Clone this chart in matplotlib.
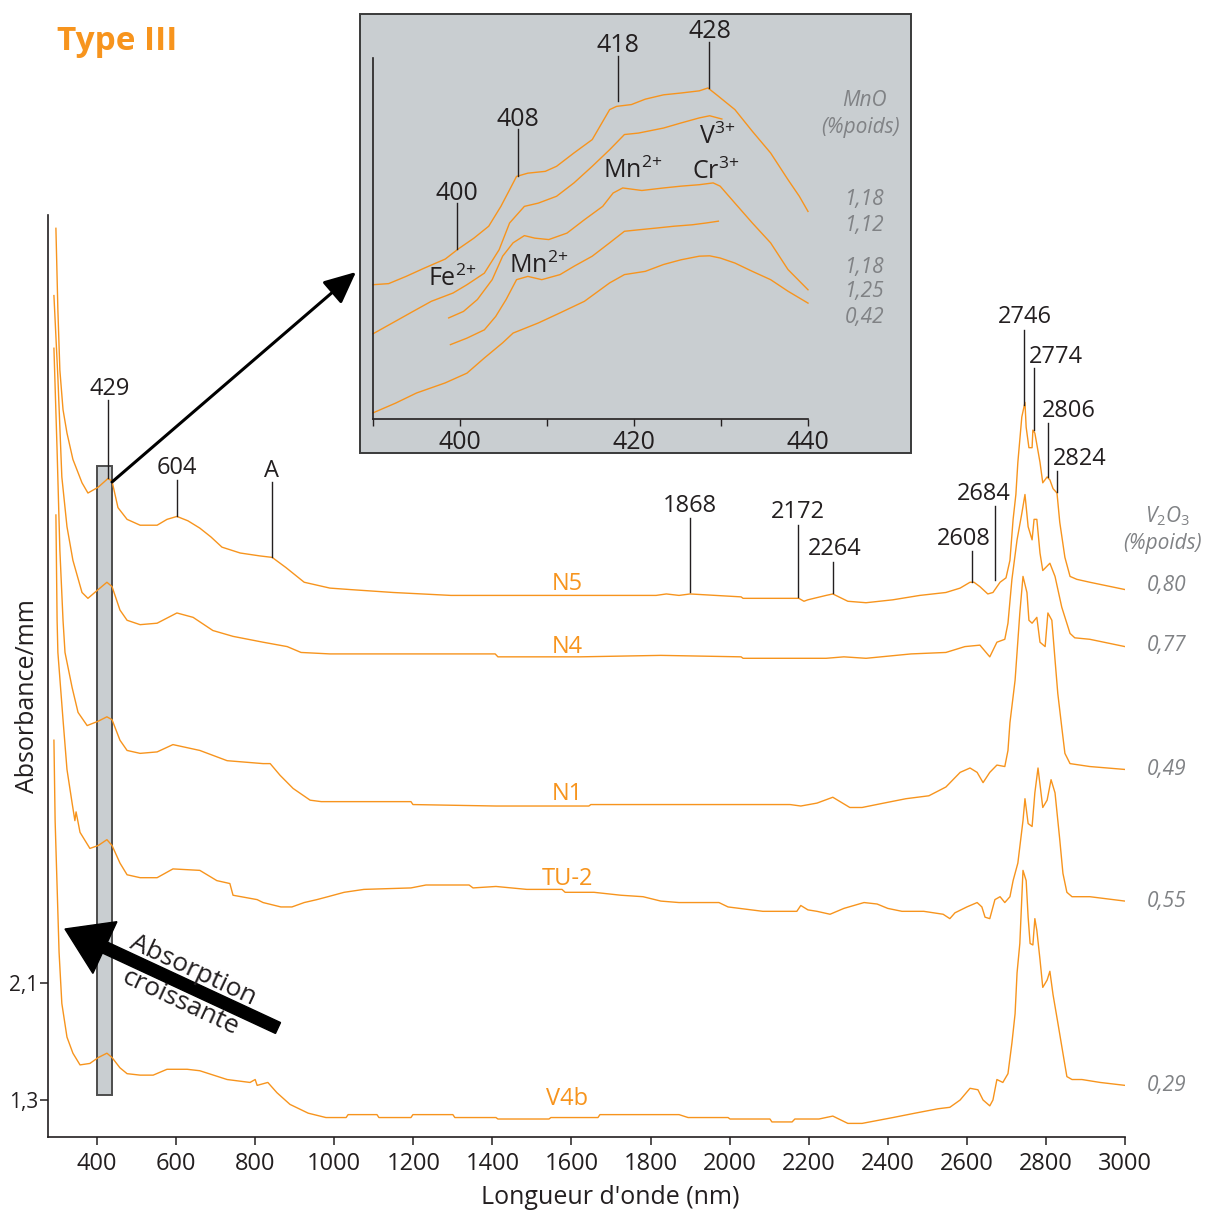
import numpy as np
import matplotlib
matplotlib.use('Agg')
import matplotlib.pyplot as plt
import matplotlib.transforms as mtransforms
from matplotlib.patches import Rectangle, FancyArrow, FancyArrowPatch
from matplotlib.lines import Line2D

plt.rcParams['font.family'] = ['Open Sans', 'DejaVu Sans']
plt.rcParams['mathtext.fontset'] = 'custom'
plt.rcParams['mathtext.rm'] = 'Open Sans'
plt.rcParams['mathtext.it'] = 'Open Sans:italic'

ORANGE = '#F7941D'
GREY = '#808285'
INK = '#231F20'
BOX = '#C9CED1'

#----------------------------------
# MAIN SPECTRA (wavelength nm, absorbance /mm)
#----------------------------------
n5_nm = [296, 301, 306, 314, 324, 339, 362, 377, 403, 428, 438, 453, 476, 509, 552, 577, 602, 630, 660, 688,
         716, 762, 812, 843, 878, 924, 989, 1040, 1149, 1295, 1409, 1814, 1840, 1872, 1900, 2029, 2034, 2175, 2188, 2198,
         2244, 2261, 2299, 2345, 2413, 2481, 2547, 2583, 2608, 2618, 2633, 2653, 2666, 2684, 2699, 2709, 2717, 2724, 2729, 2739,
         2747, 2750, 2757, 2765, 2767, 2772, 2785, 2792, 2803, 2810, 2818, 2828, 2835, 2848, 2861, 2878, 2911, 3000]
n5_abs = [7.26, 6.70, 6.29, 6.02, 5.86, 5.68, 5.52, 5.45, 5.49, 5.55, 5.53, 5.35, 5.27, 5.23, 5.23, 5.27, 5.29, 5.26, 5.21, 5.15,
          5.08, 5.04, 5.02, 5.01, 4.94, 4.84, 4.80, 4.79, 4.77, 4.75, 4.75, 4.75, 4.76, 4.75, 4.76, 4.74, 4.73, 4.73, 4.71, 4.72,
          4.75, 4.76, 4.71, 4.70, 4.72, 4.75, 4.77, 4.80, 4.84, 4.84, 4.81, 4.76, 4.77, 4.84, 4.87, 4.99, 5.27, 5.44, 5.66, 5.97,
          6.07, 5.90, 5.76, 5.76, 5.88, 5.86, 5.66, 5.52, 5.56, 5.54, 5.48, 5.45, 5.25, 5.01, 4.88, 4.86, 4.84, 4.79]

n4_nm = [291, 301, 311, 324, 339, 362, 377, 403, 425, 438, 458, 476, 509, 552, 602, 643, 693, 744, 820, 881,
         916, 989, 1407, 1414, 1622, 1826, 2029, 2034, 2244, 2289, 2345, 2459, 2547, 2595, 2633, 2658, 2676, 2696, 2704, 2714,
         2727, 2739, 2747, 2755, 2765, 2770, 2777, 2785, 2792, 2810, 2823, 2840, 2861, 2873, 2911, 3000]
n4_abs = [6.80, 6.24, 5.56, 5.22, 4.99, 4.77, 4.73, 4.79, 4.84, 4.81, 4.65, 4.58, 4.55, 4.56, 4.63, 4.60, 4.51, 4.47, 4.43, 4.40,
          4.36, 4.35, 4.35, 4.33, 4.33, 4.34, 4.33, 4.32, 4.32, 4.33, 4.32, 4.35, 4.36, 4.40, 4.41, 4.33, 4.43, 4.45, 4.56, 4.86,
          5.13, 5.31, 5.44, 5.22, 5.13, 5.27, 5.27, 5.04, 4.92, 4.97, 4.88, 4.67, 4.49, 4.46, 4.45, 4.40]

n1_nm = [291, 299, 306, 314, 319, 337, 352, 375, 403, 425, 438, 458, 476, 509, 552, 592, 660, 729, 820, 838,
         863, 896, 939, 967, 1194, 1199, 1409, 1644, 1649, 2153, 2180, 2221, 2261, 2304, 2335, 2390, 2446, 2504, 2547, 2583,
         2608, 2626, 2641, 2658, 2676, 2696, 2704, 2709, 2722, 2734, 2742, 2752, 2757, 2765, 2777, 2785, 2798, 2805, 2815, 2823,
         2830, 2840, 2848, 2861, 2911, 3000]
n1_abs = [6.44, 5.74, 5.06, 4.58, 4.36, 4.12, 3.95, 3.86, 3.89, 3.92, 3.90, 3.76, 3.69, 3.67, 3.68, 3.73, 3.69, 3.62, 3.60, 3.60,
          3.52, 3.43, 3.35, 3.34, 3.34, 3.32, 3.31, 3.31, 3.32, 3.32, 3.31, 3.33, 3.37, 3.30, 3.30, 3.33, 3.36, 3.38, 3.44, 3.54,
          3.57, 3.54, 3.47, 3.54, 3.59, 3.58, 3.69, 3.88, 4.17, 4.63, 4.88, 4.77, 4.58, 4.56, 4.60, 4.43, 4.40, 4.63, 4.58, 4.31,
          4.08, 3.85, 3.67, 3.60, 3.58, 3.56]

tu2_nm = [296, 299, 301, 314, 324, 337, 344, 347, 357, 382, 403, 425, 438, 458, 476, 509, 552, 592, 660, 703,
          736, 744, 805, 820, 865, 893, 924, 956, 984, 1025, 1075, 1194, 1232, 1341, 1351, 1409, 1487, 1576, 1584, 1657,
          1725, 1781, 1826, 1872, 1973, 1996, 2084, 2170, 2180, 2198, 2221, 2254, 2289, 2340, 2373, 2400, 2436, 2491, 2540, 2557,
          2570, 2600, 2626, 2638, 2646, 2658, 2671, 2684, 2696, 2709, 2717, 2729, 2742, 2747, 2755, 2765, 2772, 2780, 2792, 2803,
          2813, 2823, 2835, 2843, 2853, 2866, 2911, 3000]
tu2_abs = [5.30, 4.58, 4.36, 3.90, 3.56, 3.33, 3.21, 3.27, 3.13, 3.02, 3.04, 3.08, 3.04, 2.92, 2.84, 2.82, 2.82, 2.88, 2.87, 2.80,
           2.78, 2.70, 2.67, 2.65, 2.62, 2.62, 2.65, 2.67, 2.69, 2.72, 2.74, 2.75, 2.77, 2.77, 2.75, 2.76, 2.74, 2.74, 2.72, 2.72,
           2.70, 2.69, 2.66, 2.65, 2.65, 2.62, 2.59, 2.59, 2.63, 2.60, 2.59, 2.57, 2.61, 2.65, 2.64, 2.61, 2.59, 2.59, 2.57, 2.54,
           2.58, 2.62, 2.65, 2.62, 2.55, 2.54, 2.67, 2.69, 2.65, 2.69, 2.80, 2.92, 3.21, 3.36, 3.19, 3.17, 3.40, 3.57, 3.30, 3.35,
           3.49, 3.40, 3.08, 2.85, 2.72, 2.69, 2.69, 2.66]

v4b_nm = [291, 294, 299, 304, 311, 324, 339, 357, 382, 403, 425, 438, 458, 476, 509, 542, 577, 628, 660, 729,
          787, 800, 805, 832, 855, 888, 934, 979, 1030, 1035, 1108, 1113, 1194, 1199, 1300, 1305, 1409, 1414, 1543, 1548,
          1667, 1672, 1872, 1895, 1996, 2001, 2102, 2107, 2158, 2165, 2226, 2261, 2299, 2335, 2413, 2469, 2527, 2557, 2583, 2608,
          2628, 2641, 2658, 2666, 2676, 2691, 2704, 2714, 2722, 2727, 2734, 2742, 2750, 2755, 2760, 2767, 2772, 2777, 2785, 2792,
          2803, 2810, 2818, 2830, 2843, 2853, 2866, 2891, 2937, 3000]
v4b_abs = [3.76, 3.21, 2.76, 2.31, 1.96, 1.73, 1.62, 1.54, 1.55, 1.59, 1.62, 1.59, 1.52, 1.48, 1.47, 1.47, 1.51, 1.51, 1.50, 1.44,
           1.42, 1.44, 1.40, 1.42, 1.35, 1.27, 1.21, 1.18, 1.18, 1.20, 1.20, 1.18, 1.18, 1.20, 1.20, 1.18, 1.18, 1.17, 1.17, 1.18,
           1.18, 1.20, 1.20, 1.18, 1.18, 1.17, 1.17, 1.15, 1.15, 1.17, 1.17, 1.19, 1.14, 1.14, 1.18, 1.21, 1.24, 1.25, 1.30, 1.38,
           1.37, 1.30, 1.26, 1.30, 1.44, 1.42, 1.48, 1.69, 1.89, 2.17, 2.37, 2.87, 2.80, 2.55, 2.37, 2.36, 2.54, 2.46, 2.26, 2.07,
           2.12, 2.18, 2.02, 1.83, 1.62, 1.46, 1.44, 1.44, 1.42, 1.40]

samples = ['N5', 'N4', 'N1', 'TU-2', 'V4b']
v2o3 = ['0,80', '0,77', '0,49', '0,55', '0,29']
spectra = [(n5_nm, n5_abs), (n4_nm, n4_abs), (n1_nm, n1_abs), (tu2_nm, tu2_abs), (v4b_nm, v4b_abs)]

#----------------------------------
# INSET: 390-440 nm zoom (relative absorbance)
#----------------------------------
ins1_nm = [390.0, 391.8, 393.8, 395.9, 398.3, 399.8, 401.6, 403.3, 404.7, 405.7, 406.5, 407.8, 409.8, 411.1, 413.1, 415.2,
           417.2, 418.0, 419.7, 421.3, 423.4, 425.4, 427.5, 428.5, 429.5, 431.6, 433.6, 435.7, 437.7, 439.0, 440.0]
ins1_val = [0.372, 0.375, 0.395, 0.418, 0.443, 0.471, 0.501, 0.534, 0.589, 0.635, 0.672, 0.681, 0.686, 0.700, 0.737, 0.774,
            0.857, 0.866, 0.871, 0.886, 0.898, 0.903, 0.909, 0.917, 0.898, 0.857, 0.797, 0.737, 0.663, 0.617, 0.575]
ins2_nm = [390.0, 392.6, 394.6, 396.7, 399.2, 400.8, 402.8, 404.5, 405.7, 407.4, 409.0, 411.1, 413.1, 415.2, 417.2, 418.9,
           420.5, 423.4, 425.4, 427.5, 428.7, 430.1]
ins2_val = [0.236, 0.271, 0.298, 0.326, 0.349, 0.372, 0.404, 0.469, 0.543, 0.589, 0.598, 0.617, 0.654, 0.700, 0.746, 0.788,
            0.792, 0.806, 0.820, 0.834, 0.840, 0.831]
ins3_nm = [398.7, 400.4, 402.0, 403.7, 404.9, 406.1, 407.4, 408.6, 410.2, 412.3, 414.3, 416.4, 417.6, 418.7, 420.9, 423.4,
           425.4, 427.5, 429.1, 429.9, 431.6, 433.6, 435.7, 437.7, 440.0]
ins3_val = [0.280, 0.298, 0.331, 0.386, 0.451, 0.488, 0.508, 0.501, 0.497, 0.515, 0.552, 0.589, 0.626, 0.640, 0.633, 0.640,
            0.645, 0.649, 0.654, 0.645, 0.598, 0.543, 0.488, 0.414, 0.358]
ins4_nm = [398.9, 400.8, 402.8, 404.1, 405.3, 406.5, 407.8, 409.4, 411.5, 413.1, 415.2, 417.2, 418.9, 420.5, 422.6, 424.6,
           426.7, 428.3, 429.7]
ins4_val = [0.206, 0.224, 0.247, 0.284, 0.331, 0.386, 0.395, 0.386, 0.400, 0.423, 0.451, 0.488, 0.520, 0.524, 0.529, 0.534,
            0.538, 0.543, 0.548]
ins5_nm = [390.0, 392.6, 395.0, 398.3, 400.8, 402.8, 404.9, 406.1, 409.0, 411.5, 414.3, 417.2, 418.9, 421.3, 423.4, 425.4,
           427.5, 428.7, 429.9, 431.6, 433.6, 435.7, 437.7, 440.0]
ins5_val = [0.017, 0.044, 0.072, 0.100, 0.127, 0.169, 0.211, 0.238, 0.266, 0.294, 0.326, 0.377, 0.400, 0.409, 0.428, 0.441,
            0.451, 0.452, 0.446, 0.432, 0.409, 0.386, 0.354, 0.321]
mno = ['1,18', '1,12', '1,18', '1,25', '0,42']
inset_spectra = [(ins1_nm, ins1_val), (ins2_nm, ins2_val), (ins3_nm, ins3_val), (ins4_nm, ins4_val), (ins5_nm, ins5_val)]

#----------------------------------
# FIGURE
#----------------------------------
W, H = 1206, 1212
fig = plt.figure(figsize=(W / 100, H / 100), dpi=100)
# pixel coordinates, origin top-left (used for annotations only)
pix = mtransforms.Affine2D().scale(1 / W, -1 / H).translate(0, 1) + fig.transFigure


def box(l, t, r, b):
    return [l / W, 1 - b / H, (r - l) / W, (b - t) / H]


ax = fig.add_axes(box(48, 215, 1125, 1137))
ax.set_facecolor('none')
ax.set_xlim(276, 3000)
ax.set_ylim(1.047, 7.351)
for s in ['top', 'right']:
    ax.spines[s].set_visible(False)
for s in ['left', 'bottom']:
    ax.spines[s].set_color(INK)
    ax.spines[s].set_linewidth(1.2)
ax.set_xticks(np.arange(400, 3001, 200))
ax.tick_params(axis='x', direction='out', length=6, width=1.1, labelsize=17, pad=5, colors=INK)
ax.set_yticks([1.3, 2.1])
ax.set_yticklabels(['1,3', '2,1'])
ax.tick_params(axis='y', direction='out', length=6, width=1.1, labelsize=15, pad=1, colors=INK)

# grey band around 429 nm
ax.add_patch(Rectangle((400, 1.334), 38, 4.30, facecolor=BOX, edgecolor='#4d4d4d', lw=1.4, zorder=1))

for nm, ab in spectra:
    ax.plot(nm, ab, color=ORANGE, lw=1.0, zorder=2)

label_abs = [4.83, 4.40, 3.39, 2.81, 1.31]
for name, ya in zip(samples, label_abs):
    ax.text(1590, ya, name, ha='center', va='center', fontsize=17, color=ORANGE)

v2o3_py = [586, 645, 770, 901, 1086]
for v, py in zip(v2o3, v2o3_py):
    fig.text(1167, py, v, transform=pix, ha='center', va='center', fontsize=15, color=GREY, style='italic')
fig.text(1167, 516, r'$\mathit{V_2O_3}$', transform=pix, ha='center', va='center', fontsize=15, color=GREY)
fig.text(1163, 543, '(%poids)', transform=pix, ha='center', va='center', fontsize=15, color=GREY, style='italic')


def peak(txt, tx, ty, lx, y0, y1, size=17):
    fig.text(tx, ty + 2, txt, transform=pix, ha='center', va='center', fontsize=size, color=INK, zorder=5)
    fig.add_artist(Line2D([lx, lx], [y0, y1], transform=pix, color=INK, lw=1.0, zorder=5))


peak('429', 110, 387, 108, 400, 478)
peak('604', 177, 466, 177, 480, 516)
peak('A', 272, 469, 272, 482, 557)
peak('1868', 690, 504, 690, 518, 592)
peak('2172', 798, 510, 798, 525, 597)
peak('2264', 835, 547, 833, 562, 593)
peak('2608', 964, 537, 972, 551, 582)
peak('2684', 984, 492, 995, 506, 580)
peak('2746', 1025, 315, 1024, 330, 405)
peak('2774', 1056, 355, 1034, 368, 430)
peak('2806', 1069, 409, 1048, 423, 477)
peak('2824', 1080, 457, 1057, 471, 492)

fig.text(57, 41, 'Type III', transform=pix, ha='left', va='center', fontsize=24, fontweight='bold', color=ORANGE)
fig.text(28, 696, 'Absorbance/mm', transform=pix, ha='center', va='center', rotation=90, fontsize=18, color=INK)
fig.text(610, 1198, "Longueur d'onde (nm)", transform=pix, ha='center', va='center', fontsize=18, color=INK)

# big arrow "Absorption croissante"
fig.add_artist(FancyArrow(278, 1028, -213, -99, width=12, head_width=57, head_length=44,
                          length_includes_head=True, transform=pix, color='black', zorder=6))
fig.text(193, 970, 'Absorption', transform=pix, ha='center', va='center', rotation=-25, fontsize=19, color=INK, zorder=6)
fig.text(180, 1003, 'croissante', transform=pix, ha='center', va='center', rotation=-25, fontsize=19, color=INK, zorder=6)

# arrow to inset
fig.add_artist(FancyArrowPatch((112, 482), (356, 272), transform=pix,
                               arrowstyle='-|>,head_length=0.65,head_width=0.3', mutation_scale=30,
                               lw=2.2, color='black', shrinkA=0, shrinkB=0, zorder=6))

#----------------------------------
# INSET
#----------------------------------
fig.add_artist(Rectangle((360, 14), 551, 439, transform=pix, facecolor=BOX, edgecolor='#3a3a3a', lw=1.4, zorder=1))
axi = fig.add_axes(box(373, 58, 808, 419))
axi.set_zorder(2)
axi.set_facecolor('none')
axi.set_xlim(390, 440)
axi.set_ylim(0, 1)
for s in ['top', 'right']:
    axi.spines[s].set_visible(False)
for s in ['left', 'bottom']:
    axi.spines[s].set_color(INK)
    axi.spines[s].set_linewidth(1.2)
axi.set_yticks([])
axi.set_xticks([400, 420, 440])
axi.set_xticks([390, 410, 430], minor=True)
axi.tick_params(axis='x', which='both', direction='out', length=5, width=1.0, labelsize=18, pad=3, colors=INK)

for nm, v in inset_spectra:
    axi.plot(nm, v, color=ORANGE, lw=1.0, clip_on=False)

peak('428', 710, 29, 709, 42, 88, 18)
peak('418', 618, 43, 618, 56, 101, 18)
peak('408', 518, 117, 518, 129, 176, 18)
peak('400', 457, 191, 457, 203, 249, 18)

ion_kw = dict(transform=pix, ha='center', va='center', fontsize=18, color=INK, zorder=5)
fig.text(452, 279, r'Fe$^{2{+}}$', **ion_kw)
fig.text(539, 266, r'Mn$^{2{+}}$', **ion_kw)
fig.text(633, 171, r'Mn$^{2{+}}$', **ion_kw)
fig.text(717, 137, r'V$^{3{+}}$', **ion_kw)
fig.text(716, 172, r'Cr$^{3{+}}$', **ion_kw)

grey_kw = dict(transform=pix, ha='center', va='center', fontsize=15, color=GREY, style='italic', zorder=5)
fig.text(864, 100, 'MnO', **grey_kw)
fig.text(860, 127, '(%poids)', **grey_kw)
mno_py = [199, 226, 267, 291, 317]
for m, py in zip(mno, mno_py):
    fig.text(865, py, m, **grey_kw)

fig.savefig('out.png', dpi=100)
